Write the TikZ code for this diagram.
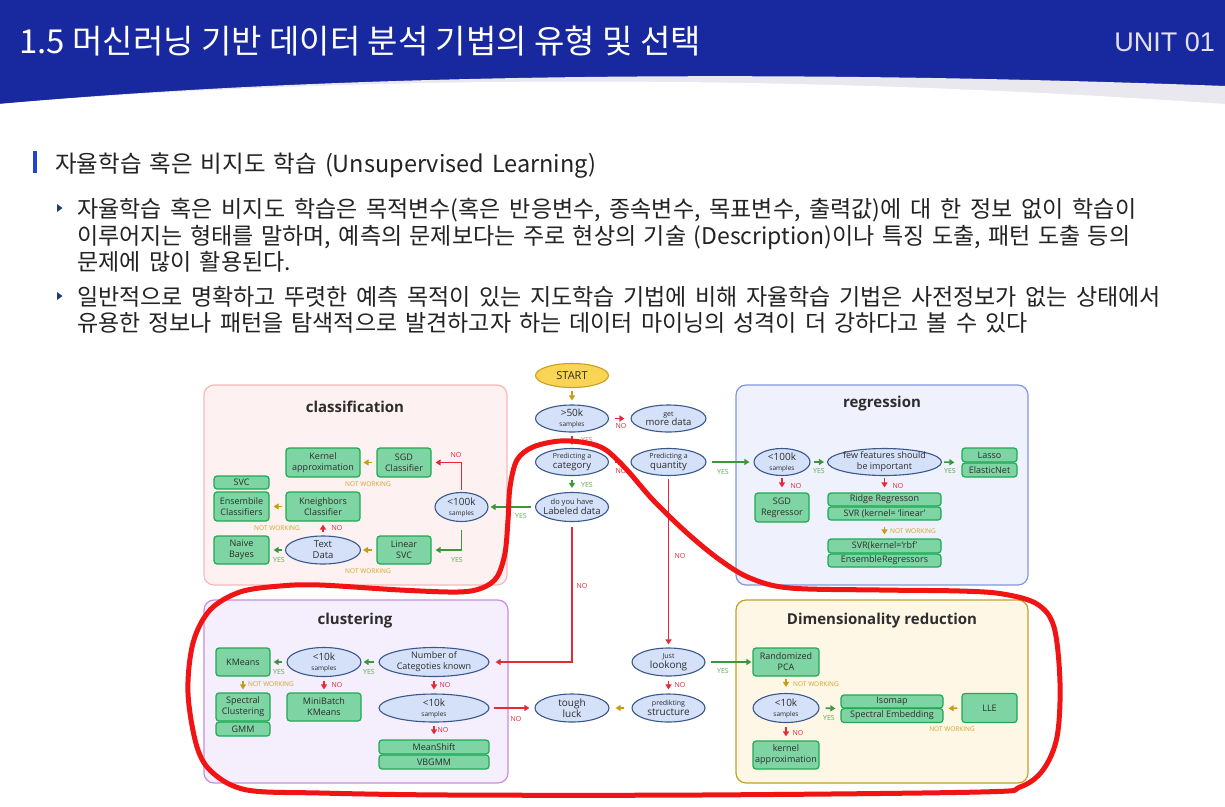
\documentclass[tikz,border=0pt]{standalone}
\usepackage{fontspec}
\setmainfont{Open Sans}
\newfontfamily\krfont{Noto Sans CJK KR}
\newfontfamily\unitfont{Liberation Sans}
\usetikzlibrary{shapes.geometric,arrows.meta}

\newcommand\fsz[1]{\fontsize{#1}{#1}\selectfont}
\newcommand\fszb[2]{\fontsize{#1}{#2}\selectfont}

\definecolor{hdrblue}{RGB}{24,40,158}
\definecolor{hdrshade}{RGB}{232,232,238}
\definecolor{unitgray}{RGB}{225,225,232}
\definecolor{bodytxt}{RGB}{35,35,35}
\definecolor{barblue}{RGB}{34,68,204}
\definecolor{bulletc}{RGB}{31,59,115}
\definecolor{ellF}{RGB}{212,225,248}
\definecolor{ellD}{RGB}{58,88,140}
\definecolor{gF}{RGB}{126,212,162}
\definecolor{gD}{RGB}{30,170,85}
\definecolor{txt}{RGB}{45,45,45}
\definecolor{startF}{RGB}{250,212,85}
\definecolor{startD}{RGB}{200,160,30}
\definecolor{redA}{RGB}{230,40,55}
\definecolor{greenA}{RGB}{60,150,60}
\definecolor{yesT}{RGB}{95,170,80}
\definecolor{goldA}{RGB}{200,155,20}
\definecolor{nwT}{RGB}{205,165,40}
\definecolor{clsF}{RGB}{253,241,241}
\definecolor{clsD}{RGB}{246,185,185}
\definecolor{regF}{RGB}{239,241,252}
\definecolor{regD}{RGB}{130,150,225}
\definecolor{cluF}{RGB}{245,238,252}
\definecolor{cluD}{RGB}{200,140,225}
\definecolor{dimF}{RGB}{255,247,230}
\definecolor{dimD}{RGB}{195,160,40}
\definecolor{penred}{RGB}{240,20,20}

\tikzset{
  ell/.style 2 args={ellipse, draw=ellD, fill=ellF, line width=1.1pt,
    inner xsep=-20pt, inner ysep=-10pt, minimum width=#1, minimum height=#2,
    align=center, text=txt},
  gb/.style 2 args={rectangle, rounded corners=3pt, draw=gD, fill=gF, line width=1.2pt,
    inner sep=0pt, minimum width=#1, minimum height=#2, align=center, text=txt,
    font=\fszb{9}{11}},
  panel/.style 2 args={rounded corners=10pt, line width=1.2pt, fill=#1, draw=#2},
  ptitle/.style={font=\bfseries\fsz{15}, text=txt},
  tip/.style={-{Triangle[length=5pt,width=6pt]}, line width=1.6pt},
  arR/.style={tip, draw=redA},
  arG/.style={tip, draw=greenA},
  arY/.style={tip, draw=goldA},
  lyes/.style={text=yesT, font=\fsz{7}, inner sep=0pt},
  lno/.style={text=redA, font=\fsz{7}, inner sep=0pt},
  lnw/.style={text=nwT, font=\fsz{6.5}, inner sep=0pt},
  bodyline/.style={anchor=base west, inner sep=0pt, text=bodytxt, font=\krfont\fsz{23}},
}

\begin{document}
\begin{tikzpicture}[x=1pt,y=-1pt]
\useasboundingbox (0,0) rectangle (1225,806);
\fill[white] (0,0) rectangle (1225,806);

% header band with curved lower edge
\fill[hdrblue] (0,0) rectangle (1225,110);
\fill[hdrshade] (0,104) .. controls (350,72) and (800,70) .. (1225,86) -- (1225,112) -- (0,112) -- cycle;
\fill[white] (0,104) .. controls (350,74) and (800,74) .. (1225,104) -- (1225,114) -- (0,114) -- cycle;
\node[anchor=base west, inner sep=0pt, text=white, font=\krfont\fsz{33}] (title) at (19,53)
  {1.5 머신러닝 기반 데이터 분석 기법의 유형 및 선택};
\node[anchor=base east, inner sep=0pt, text=unitgray, font=\unitfont\fsz{27}] (unit) at (1215,51) {UNIT 01};

% section heading and bullets
\fill[barblue] (33,151) rectangle (37,173);
\node[anchor=base west, inner sep=0pt, text=bodytxt, font=\krfont\fsz{23.5}] (head) at (55,172)
  {{\spaceskip=8pt\relax 자율학습 혹은 비지도 학습 (Unsupervised Learning)}};
\foreach \yy in {208,296} \fill[bulletc] (57,\yy-4) -- (62.5,\yy) -- (57,\yy+4) -- cycle;
\node[bodyline] (b1) at (77,217) {{\spaceskip=8.8pt\relax 자율학습 혹은 비지도 학습은 목적변수(혹은 반응변수, 종속변수, 목표변수, 출력값)에 대 한 정보 없이 학습이}};
\node[bodyline] (b2) at (77,244) {{\spaceskip=7.5pt\relax 이루어지는 형태를 말하며, 예측의 문제보다는 주로 현상의 기술 (Description)이나 특징 도출, 패턴 도출 등의}};
\node[bodyline] (b3) at (77,270) {{\spaceskip=8.5pt\relax 문제에 많이 활용된다.}};
\node[bodyline] (b4) at (77,305) {{\spaceskip=8.5pt\relax 일반적으로 명확하고 뚜렷한 예측 목적이 있는 지도학습 기법에 비해 자율학습 기법은 사전정보가 없는 상태에서}};
\node[bodyline] (b5) at (77,331) {{\spaceskip=8pt\relax 유용한 정보나 패턴을 탐색적으로 발견하고자 하는 데이터 마이닝의 성격이 더 강하다고 볼 수 있다}};

% panels
\draw[panel={clsF}{clsD}] (204,385) rectangle (507,585);
\draw[panel={regF}{regD}] (736,385) rectangle (1028,585);
\draw[panel={cluF}{cluD}] (204,600) rectangle (508,783);
\draw[panel={dimF}{dimD}] (736,600) rectangle (1028,783);
\node[ptitle] (tcls) at (355,407) {classification};
\node[ptitle] (treg) at (882,404) {regression};
\node[ptitle] (tclu) at (355,621) {clustering};
\node[ptitle] (tdim) at (882,621) {Dimensionality reduction};

% central decision column
\node[ell={73pt}{24pt}, fill=startF, draw=startD, font=\fsz{11}] (start) at (572,375.5) {START};
\node[ell={73pt}{27pt}, font=\fszb{10}{10}] (s50) at (572,418.5) {>50k\\{\fsz{6.5}samples}};
\node[ell={75pt}{27pt}, font=\fszb{9.5}{9}] (more) at (668.5,418.5) {{\fsz{7}get}\\more data};
\node[ell={73pt}{27pt}, font=\fszb{9.5}{10}] (cat) at (572,462) {{\fsz{7}Predicting a}\\category};
\node[ell={75pt}{27pt}, font=\fszb{9.5}{10}] (qty) at (668.5,462) {{\fsz{7}Predicting a}\\quantity};
\node[ell={73pt}{29pt}, font=\fszb{9.5}{10}] (lab) at (572,507) {{\fsz{7.5}do you have}\\Labeled data};

% classification
\node[gb={54pt}{29pt}] (sgdc) at (404,462.5) {SGD\\Classifier};
\node[gb={74pt}{29pt}] (kern) at (323,462.5) {Kernel\\approximation};
\node[gb={55pt}{13pt}] (svc) at (241.5,482.5) {SVC};
\node[gb={55pt}{29pt}] (ens) at (241.5,506.5) {Ensembile\\Classifiers};
\node[gb={74pt}{29pt}] (knn) at (323,506.5) {Kneighbors\\Classifier};
\node[ell={53pt}{29pt}, font=\fszb{10}{10}] (c100) at (461.5,507) {<100k\\{\fsz{6.5}samples}};
\node[ell={75pt}{28pt}, font=\fszb{9.5}{11}] (txtd) at (323,550) {Text\\Data};
\node[gb={55pt}{28pt}] (nb) at (241.5,550) {Naive\\Bayes};
\node[gb={54pt}{28pt}] (lsvc) at (404,550) {Linear\\SVC};

% regression
\node[ell={56pt}{27pt}, font=\fszb{10}{10}] (r100) at (782,462) {<100k\\{\fsz{6.5}samples}};
\node[ell={114pt}{27pt}, font=\fszb{9}{11}] (few) at (884.5,462) {few features should\\be important};
\node[gb={55pt}{14pt}] (lasso) at (989.5,455) {Lasso};
\node[gb={55pt}{14pt}] (enet) at (989.5,470) {ElasticNet};
\node[gb={54pt}{29pt}] (sgdr) at (782,507.5) {SGD\\Regressor};
\node[gb={113pt}{13pt}] (ridge) at (884.5,499.5) {Ridge Regresson};
\node[gb={113pt}{13pt}] (svrl) at (884.5,513.5) {SVR (kernel= ‘linear’};
\node[gb={113pt}{14pt}] (svrr) at (884.5,546) {SVR(kernel=‘rbf’};
\node[gb={113pt}{13pt}] (ensr) at (884.5,560.5) {EnsembleRegressors};

% clustering
\node[gb={54pt}{28pt}] (km) at (243,662) {KMeans};
\node[ell={74pt}{29pt}, font=\fszb{10}{10}] (c10) at (324,662) {<10k\\{\fsz{6.5}samples}};
\node[ell={110pt}{29pt}, font=\fszb{9}{11}] (ncat) at (434,662) {Number of\\Categoties known};
\node[gb={54pt}{28pt}] (spec) at (243,707) {Spectral\\Clustering};
\node[gb={54pt}{14pt}] (gmm) at (243,729) {GMM};
\node[gb={74pt}{28pt}] (mbk) at (324,707) {MiniBatch\\KMeans};
\node[ell={110pt}{28pt}, font=\fszb{10}{10}] (c10b) at (434,708) {<10k\\{\fsz{6.5}samples}};
\node[gb={110pt}{14pt}] (msh) at (434,747) {MeanShift};
\node[gb={110pt}{14pt}] (vbg) at (434,762) {VBGMM};

% lower centre
\node[ell={74pt}{28pt}, font=\fszb{10}{11}] (tough) at (572,708) {tough\\luck};
\node[ell={73pt}{28pt}, font=\fszb{10}{10}] (struct) at (668.5,708) {{\fsz{7}predikting}\\structure};
\node[ell={73pt}{28pt}, font=\fszb{10}{10}] (just) at (668.5,662) {{\fsz{7}Just}\\lookong};

% dimensionality reduction
\node[gb={66pt}{28pt}] (rpca) at (786,662) {Randomized\\PCA};
\node[ell={66pt}{29pt}, font=\fszb{10}{10}] (d10) at (786,708) {<10k\\{\fsz{6.5}samples}};
\node[gb={102pt}{13pt}] (iso) at (892,701.5) {Isomap};
\node[gb={102pt}{14pt}] (spe) at (892,715.5) {Spectral Embedding};
\node[gb={55pt}{29pt}] (lle) at (989.5,708) {LLE};
\node[gb={66pt}{28pt}] (kapp) at (786,755) {kernel\\approximation};

% connectors: centre
\draw[arY, shorten <=3pt, shorten >=4pt] (start) -- (s50);
\draw[arR, shorten <=6pt, shorten >=6pt] (s50) -- (more);
\draw[arR, shorten <=3pt, shorten >=3pt] (s50) -- (cat);
\draw[arR, shorten <=6pt, shorten >=7pt] (cat) -- (qty);
\draw[arG, shorten <=4pt, shorten >=4pt] (cat) -- (lab);
\draw[arG, shorten <=4pt, shorten >=2pt] (lab) -- (c100);
\draw[arR, shorten <=5pt, shorten >=6pt] (lab.south) |- (ncat.east);
\draw[arG, shorten <=5pt, shorten >=4pt] (qty) -- (r100);
\draw[arR, shorten <=3pt, shorten >=3pt] (qty) -- (just);

% connectors: classification
\draw[arR, shorten <=2pt, shorten >=4pt] (c100.north) |- (sgdc.east);
\draw[arY, shorten <=4pt, shorten >=3pt] (sgdc) -- (kern);
\draw[arY, shorten <=3pt, shorten >=4pt] (knn) -- (ens);
\draw[arR, shorten <=3pt, shorten >=3pt] (txtd) -- (knn);
\draw[arG, shorten <=3pt, shorten >=4pt] (txtd) -- (nb);
\draw[arY, shorten <=4pt, shorten >=2pt] (lsvc) -- (txtd);
\draw[arG, shorten <=8pt, shorten >=4pt] (c100.south) |- (lsvc.east);

% connectors: regression
\draw[arG, shorten <=3pt, shorten >=3pt] (r100) -- (few);
\draw[arG, shorten <=2pt, shorten >=7pt] (few.east) -- (lasso.south west);
\draw[arR, shorten <=2pt, shorten >=5pt] (r100) -- (sgdr);
\draw[arR, shorten <=2pt, shorten >=5pt] (few) -- (ridge);
\draw[arY, shorten <=6pt, shorten >=4pt] (svrl) -- (svrr);

% connectors: clustering
\draw[arG, shorten <=4pt, shorten >=2pt] (ncat) -- (c10);
\draw[arG, shorten <=4pt, shorten >=3pt] (c10) -- (km);
\draw[arY, shorten <=4pt, shorten >=3pt] (km) -- (spec);
\draw[arR, shorten <=4pt, shorten >=3pt] (c10) -- (mbk);
\draw[arR, shorten <=4pt, shorten >=4pt] (ncat) -- (c10b);
\draw[arR, shorten <=3pt, shorten >=5pt] (c10b) -- (msh);
\draw[arR, shorten <=4pt, shorten >=5pt] (c10b) -- (tough);

% connectors: lower centre and dimensionality reduction
\draw[arR, shorten <=4pt, shorten >=4pt] (just) -- (struct);
\draw[arY, shorten <=7pt, shorten >=6pt] (struct) -- (tough);
\draw[arG, shorten <=5pt, shorten >=1pt] (just) -- (rpca);
\draw[arY, shorten <=2pt, shorten >=6pt] (rpca) -- (d10);
\draw[arG, shorten <=6pt, shorten >=5pt] (d10.east) -- (iso.south west);
\draw[arY, shorten <=4pt, shorten >=5pt] (lle.west) -- (iso.south east);
\draw[arR, shorten <=4pt, shorten >=4pt] (d10) -- (kapp);

% branch labels
\node[lno] (n1) at (621,426) {NO};
\node[lno, text=redA!70] (y0) at (587,440) {YES};
\node[lno] (n2) at (621,471) {NO};
\node[lyes] (y1) at (587,485) {YES};
\node[lyes] (y2) at (521,516) {YES};
\node[lno] (n3) at (582,586) {NO};
\node[lno] (n4) at (680,556) {NO};
\node[lyes] (y3) at (723,472) {YES};
\node[lno] (n5) at (456,455) {NO};
\node[lnw] (w1) at (368,484) {NOT WORKING};
\node[lnw] (w2) at (277,528) {NOT WORKING};
\node[lno] (n6) at (337,528) {NO};
\node[lyes] (y4) at (279,560) {YES};
\node[lnw] (w3) at (368,571) {NOT WORKING};
\node[lyes] (y5) at (457,560) {YES};
\node[lyes] (y6) at (819,471) {YES};
\node[lyes] (y7) at (950,471) {YES};
\node[lno] (n7) at (796,486) {NO};
\node[lno] (n8) at (898,486) {NO};
\node[lnw, anchor=west] (w4) at (890,531) {NOT WORKING};
\node[lyes] (y8) at (279,672) {YES};
\node[lyes] (y9) at (369,672) {YES};
\node[lnw, anchor=west] (w5) at (248,684) {NOT WORKING};
\node[lno] (n9) at (337,685) {NO};
\node[lno] (n10) at (445,685) {NO};
\node[lno] (n11) at (443,730) {NO};
\node[lno] (n12) at (516,719) {NO};
\node[lno] (n13) at (680,685) {NO};
\node[lyes] (y10) at (723,671) {YES};
\node[lnw, anchor=west] (w6) at (793,684) {NOT WORKING};
\node[lyes] (y11) at (829,718) {YES};
\node[lnw] (w7) at (952,729) {NOT WORKING};
\node[lno] (n14) at (798,733) {NO};

% hand-drawn red marker loop
\draw[penred, line width=5pt, line cap=round, line join=round]
  plot[smooth cycle, tension=0.55] coordinates {
  (533,447) (560,441) (587,443) (606,450) (627,470) (653,500) (687,533) (720,560)
  (750,578) (790,588) (880,590) (960,591) (1003,594) (1037,604) (1054,627) (1060,683)
  (1057,737) (1043,770) (1020,787) (980,792) (700,795) (450,795) (320,793) (247,790)
  (213,773) (197,747) (188,693) (193,643) (210,610) (240,592) (280,586) (320,585)
  (400,590) (458,592) (482,588) (497,577) (505,553) (508,520) (510,487) (517,460)};
\end{tikzpicture}
\end{document}
